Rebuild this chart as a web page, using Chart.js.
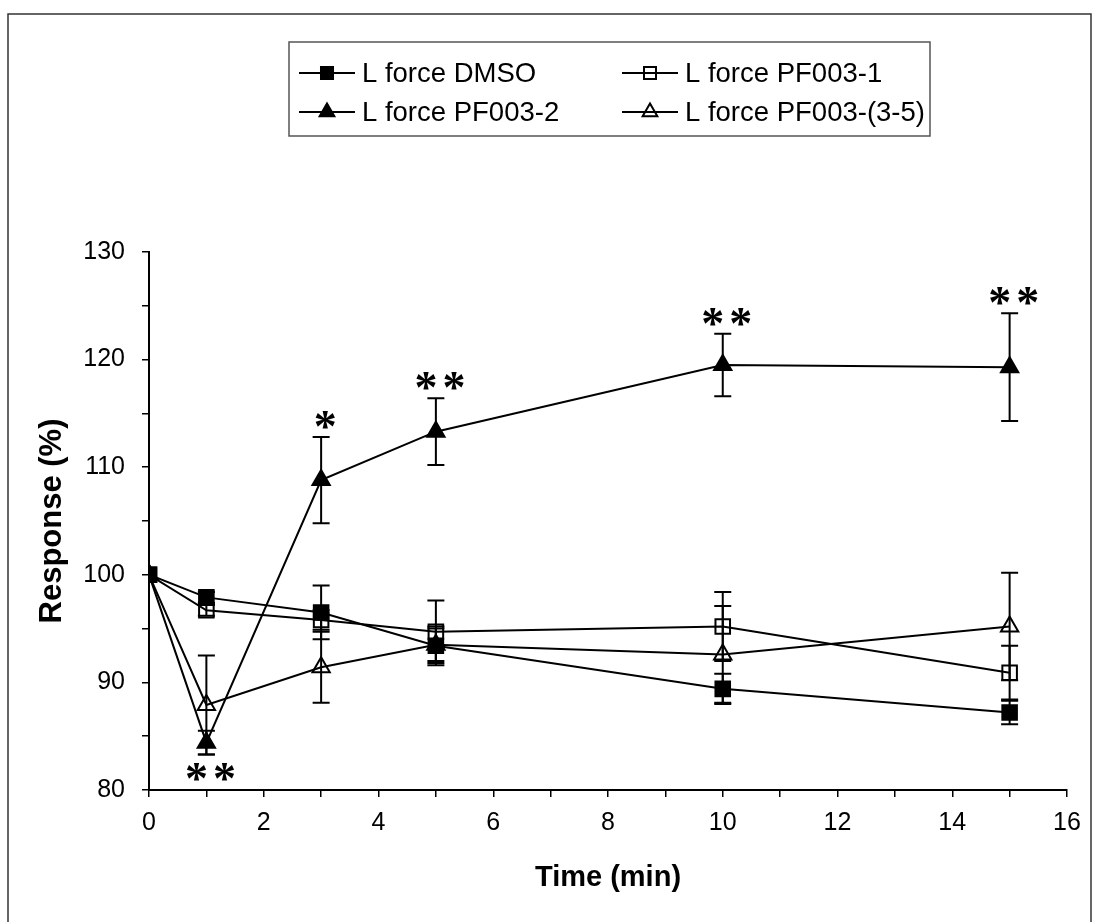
<!DOCTYPE html>
<html>
<head>
<meta charset="utf-8">
<script src="https://cdn.jsdelivr.net/npm/chart.js@4.4.1/dist/chart.umd.min.js"></script>
<style>
  html, body { margin: 0; background: #fff; }
  canvas { display: block; }
</style>
</head>
<body>
<canvas id="chart" width="1095" height="922"></canvas>
<script>
// time points (min)
const times = [0, 1, 3, 5, 10, 15];

// response (%) and error for each treatment
const dmso = [100, 97.9, 96.5, 93.4, 89.4, 87.2];
const dmsoErr = [0, 0.5, 2.5, 1.8, 1.4, 1.1];
const pf1 = [100, 96.7, 95.8, 94.7, 95.2, 90.9];
const pf1Err = [0, 0.5, 0.9, 2.9, 3.2, 2.5];
const pf2 = [100, 84.4, 108.8, 113.3, 119.5, 119.3];
const pf2Err = [0, 1.1, 4.0, 3.1, 2.9, 5.0];
const pf35 = [100, 87.9, 91.4, 93.5, 92.6, 95.2];
const pf35Err = [0, 4.6, 3.3, 1.5, 4.5, 5.0];

const seriesNames = ['L force DMSO', 'L force PF003-1', 'L force PF003-2', 'L force PF003-(3-5)'];

// significance marks on the PF003-2 curve
const starTimes = [1, 3, 5, 10, 15];
const starText = ['**', '*', '**', '**', '**'];
const starBelow = [true, false, false, false, false];

const FONT = 'Arial, "Liberation Sans", sans-serif';

function toPoints(ys) {
  return times.map((t, i) => ({ x: t, y: ys[i] }));
}

function series(label, ys, errs, style, filled) {
  return {
    label: label,
    data: toPoints(ys),
    errors: errs,
    borderColor: '#000',
    borderWidth: 2,
    pointStyle: style,
    pointRadius: style === 'rect' ? 10.3 : 10,
    pointBorderWidth: 2,
    pointBorderColor: '#000',
    pointBackgroundColor: filled ? '#000' : 'rgba(0,0,0,0)',
    tension: 0,
    fill: false
  };
}

function drawMarker(ctx, style, filled, x, y, r) {
  ctx.beginPath();
  if (style === 'rect') {
    const s = r * Math.SQRT2 / 2;
    ctx.rect(x - s, y - s, 2 * s, 2 * s);
  } else {
    ctx.moveTo(x, y - r);
    ctx.lineTo(x + r * Math.sin(2 * Math.PI / 3), y + r / 2);
    ctx.lineTo(x - r * Math.sin(2 * Math.PI / 3), y + r / 2);
    ctx.closePath();
  }
  if (filled) {
    ctx.fillStyle = '#000';
    ctx.fill();
  }
  ctx.lineWidth = 2;
  ctx.strokeStyle = '#000';
  ctx.stroke();
}

// error bars with caps
const errorBars = {
  id: 'errorBars',
  afterDatasetsDraw(chart) {
    const ctx = chart.ctx;
    const xs = chart.scales.x, ys = chart.scales.y;
    ctx.save();
    ctx.strokeStyle = '#000';
    ctx.lineWidth = 2;
    chart.data.datasets.forEach(ds => {
      ds.data.forEach((p, i) => {
        const e = ds.errors[i];
        if (!e) return;
        const x = xs.getPixelForValue(p.x);
        const top = ys.getPixelForValue(p.y + e);
        const bot = ys.getPixelForValue(p.y - e);
        ctx.beginPath();
        ctx.moveTo(x, top); ctx.lineTo(x, bot);
        ctx.moveTo(x - 8.5, top); ctx.lineTo(x + 8.5, top);
        ctx.moveTo(x - 8.5, bot); ctx.lineTo(x + 8.5, bot);
        ctx.stroke();
      });
    });
    ctx.restore();
  }
};

// asterisks, legend box and outer frame
const decorations = {
  id: 'decorations',
  afterDraw(chart) {
    const ctx = chart.ctx;
    const xs = chart.scales.x, ys = chart.scales.y;
    ctx.save();

    // asterisks
    ctx.fillStyle = '#000';
    ctx.font = 'bold 46px "Liberation Serif", "Times New Roman", serif';
    ctx.textAlign = 'center';
    ctx.textBaseline = 'alphabetic';
    const m = ctx.measureText('*');
    const glyphMid = (m.actualBoundingBoxAscent - m.actualBoundingBoxDescent) / 2;
    starTimes.forEach((t, k) => {
      const i = times.indexOf(t);
      const x = xs.getPixelForValue(t);
      const cy = starBelow[k]
        ? ys.getPixelForValue(pf2[i] - pf2Err[i]) + 18
        : ys.getPixelForValue(pf2[i] + pf2Err[i]) - 17;
      const n = starText[k].length;
      for (let j = 0; j < n; j++) {
        const sx = x + (j - (n - 1) / 2) * 28 + 4;
        ctx.fillText('*', sx, cy + glyphMid);
      }
    });

    // outer frame
    ctx.strokeStyle = '#333';
    ctx.lineWidth = 1.5;
    ctx.strokeRect(8, 14, 1083, 930);

    // legend
    ctx.strokeStyle = '#555';
    ctx.lineWidth = 1.5;
    ctx.strokeRect(289, 42, 641, 94);
    const cols = [299, 622];
    const rows = [73, 112];
    const styles = [['rect', true], ['rect', false], ['triangle', true], ['triangle', false]];
    ctx.font = '27.5px ' + FONT;
    ctx.textAlign = 'left';
    ctx.textBaseline = 'middle';
    seriesNames.forEach((name, i) => {
      const x0 = cols[i % 2], y = rows[Math.floor(i / 2)];
      ctx.beginPath();
      ctx.strokeStyle = '#000';
      ctx.lineWidth = 2;
      ctx.moveTo(x0, y); ctx.lineTo(x0 + 56, y);
      ctx.stroke();
      drawMarker(ctx, styles[i][0], styles[i][1], x0 + 28, y, styles[i][0] === 'rect' ? 8.5 : 8.5);
      ctx.fillStyle = '#000';
      ctx.fillText(name, x0 + 63, y + 1);
    });
    ctx.restore();
  }
};

new Chart(document.getElementById('chart'), {
  type: 'line',
  data: {
    datasets: [
      series(seriesNames[0], dmso, dmsoErr, 'rect', true),
      series(seriesNames[1], pf1, pf1Err, 'rect', false),
      series(seriesNames[2], pf2, pf2Err, 'triangle', true),
      series(seriesNames[3], pf35, pf35Err, 'triangle', false)
    ]
  },
  options: {
    responsive: false,
    animation: false,
    layout: { padding: { top: 252, right: 28, left: 0, bottom: 0 } },
    plugins: {
      legend: { display: false },
      tooltip: { enabled: false }
    },
    scales: {
      x: {
        type: 'linear',
        min: 0,
        max: 16,
        afterFit(scale) { scale.height = 132; },
        border: { color: '#000', width: 2 },
        grid: { drawOnChartArea: false, drawTicks: true, tickLength: 7, color: '#000', lineWidth: 1.5 },
        ticks: {
          stepSize: 1,
          autoSkip: false,
          maxRotation: 0,
          padding: 11,
          color: '#000',
          font: { family: FONT, size: 25 },
          callback: v => (v % 2 === 0 ? v : '')
        },
        title: {
          display: true,
          text: 'Time (min)',
          color: '#000',
          font: { family: FONT, size: 29, weight: 'bold' },
          padding: { top: 0, bottom: 27 }
        }
      },
      y: {
        min: 80,
        max: 130,
        afterFit(scale) { scale.width = 149; },
        border: { color: '#000', width: 2 },
        grid: { drawOnChartArea: false, drawTicks: true, tickLength: 7, color: '#000', lineWidth: 1.5 },
        ticks: {
          stepSize: 5,
          autoSkip: false,
          padding: 17,
          color: '#000',
          font: { family: FONT, size: 25 },
          callback: v => (v % 10 === 0 ? v : '')
        },
        title: {
          display: true,
          text: 'Response (%)',
          color: '#000',
          font: { family: FONT, size: 31, weight: 'bold' },
          padding: { top: 34, bottom: 0 }
        }
      }
    }
  },
  plugins: [errorBars, decorations]
});
</script>
</body>
</html>
